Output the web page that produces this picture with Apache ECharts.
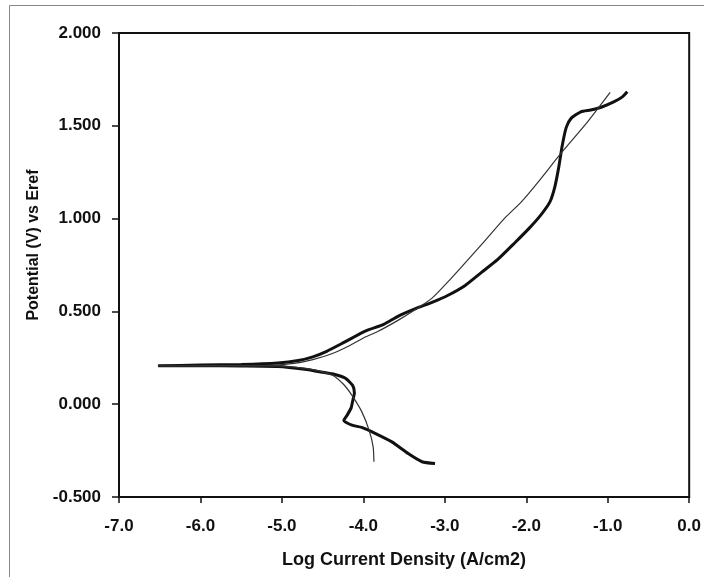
<!DOCTYPE html>
<html>
<head>
    <meta charset="utf-8">
    <title>Polarization curve</title>
    <script src="https://cdn.jsdelivr.net/npm/echarts@6/dist/echarts.min.js"></script>
    <style>
        html, body { margin: 0; padding: 0; background: #fff; }
    </style>
</head>
<body>
    <div id="main" style="width: 704px;height:577px;"></div>
    <script type="text/javascript">
        // measured scan (thick line), from the cathodic end through Ecorr to the anodic end
        var measuredLogI = [-3.12, -3.28, -3.45, -3.65, -3.85, -4.02, -4.14, -4.24, -4.20, -4.15, -4.13, -4.11, -4.13, -4.22, -4.35, -4.50, -4.72, -5.05, -5.5, -6.0, -6.52,
            -6.0, -5.5, -5.05, -4.80, -4.62, -4.45, -4.25, -3.97, -3.75, -3.57, -3.36, -3.15, -2.96, -2.75, -2.55, -2.35, -2.14, -1.96, -1.82, -1.71, -1.65, -1.60, -1.56, -1.51, -1.45, -1.33, -1.21, -1.08, -0.92, -0.82, -0.76];
        var measuredE = [-0.320, -0.310, -0.266, -0.203, -0.158, -0.125, -0.113, -0.088, -0.060, -0.020, 0.020, 0.060, 0.100, 0.140, 0.160, 0.172, 0.188, 0.203, 0.206, 0.207, 0.207,
            0.211, 0.214, 0.222, 0.235, 0.255, 0.285, 0.330, 0.395, 0.430, 0.475, 0.515, 0.550, 0.587, 0.640, 0.710, 0.780, 0.870, 0.950, 1.020, 1.090, 1.170, 1.280, 1.390, 1.490, 1.540, 1.575, 1.585, 1.600, 1.630, 1.656, 1.683];

        // fitted curve (thin line)
        var fitLogI = [-3.87, -3.88, -3.93, -4.02, -4.14, -4.25, -4.38, -4.60, -4.85, -5.2, -6.52,
            -5.2, -4.85, -4.62, -4.38, -4.16, -3.97, -3.83, -3.57, -3.36, -3.16, -2.96, -2.55, -2.27, -2.06, -1.86, -1.57, -1.25, -0.97];
        var fitE = [-0.310, -0.230, -0.140, -0.040, 0.048, 0.110, 0.156, 0.185, 0.200, 0.206, 0.207,
            0.209, 0.220, 0.240, 0.273, 0.318, 0.363, 0.390, 0.453, 0.510, 0.570, 0.660, 0.860, 1.000, 1.090, 1.194, 1.354, 1.520, 1.680];

        var xTicks = [-7, -6, -5, -4, -3, -2, -1, 0];
        var yTicks = [-0.5, 0, 0.5, 1, 1.5, 2];

        function pairs(xs, ys) {
            var out = [];
            for (var i = 0; i < xs.length; i++) {
                out.push([xs[i], ys[i]]);
            }
            return out;
        }

        var myChart = echarts.init(document.getElementById('main'));
        var fontFam = '"Liberation Sans", Arial, sans-serif';

        var option = {
            backgroundColor: '#fff',
            animation: false,
            grid: {
                left: 119, right: 12, top: 33, bottom: 80,
                show: true, borderColor: '#111', borderWidth: 2
            },
            xAxis: {
                type: 'value', position: 'bottom',
                min: xTicks[0], max: xTicks[xTicks.length - 1], interval: 1,
                axisLine: { onZero: false, lineStyle: { color: '#111', width: 2 } },
                axisTick: { length: 6, lineStyle: { color: '#111', width: 1.5 } },
                axisLabel: {
                    margin: 21, color: '#111', fontSize: 17, fontWeight: 'bold', fontFamily: fontFam,
                    formatter: function (v) { return v.toFixed(1); }
                },
                splitLine: { show: false },
                name: 'Log Current Density (A/cm2)',
                nameLocation: 'middle',
                nameGap: 54,
                nameTextStyle: { color: '#111', fontSize: 18, fontWeight: 'bold', fontFamily: fontFam }
            },
            yAxis: {
                type: 'value', position: 'left',
                min: yTicks[0], max: yTicks[yTicks.length - 1], interval: 0.5,
                axisLine: { onZero: false, lineStyle: { color: '#111', width: 2 } },
                axisTick: { length: 7, lineStyle: { color: '#111', width: 1.5 } },
                axisLabel: {
                    margin: 18, color: '#111', fontSize: 17, fontWeight: 'bold', fontFamily: fontFam,
                    formatter: function (v) { return v.toFixed(3); }
                },
                splitLine: { show: false }
            },
            graphic: [
                {
                    type: 'rect', silent: true,
                    shape: { x: 9.5, y: 5.5, width: 720, height: 620 },
                    style: { fill: 'none', stroke: '#888', lineWidth: 1 }
                },
                {
                    type: 'text', x: 34, y: 245, rotation: Math.PI / 2,
                    style: {
                        text: 'Potential (V) vs Eref',
                        fill: '#111', font: 'bold 16px ' + fontFam,
                        textAlign: 'center', textVerticalAlign: 'middle'
                    }
                }
            ],
            series: [
                {
                    name: 'measured', type: 'line',
                    data: pairs(measuredLogI, measuredE),
                    showSymbol: false, smooth: 0.2,
                    lineStyle: { color: '#111', width: 3 }
                },
                {
                    name: 'fit', type: 'line',
                    data: pairs(fitLogI, fitE),
                    showSymbol: false, smooth: 0.2,
                    lineStyle: { color: '#333', width: 1.2 }
                }
            ]
        };

        myChart.setOption(option);
    </script>
</body>
</html>
